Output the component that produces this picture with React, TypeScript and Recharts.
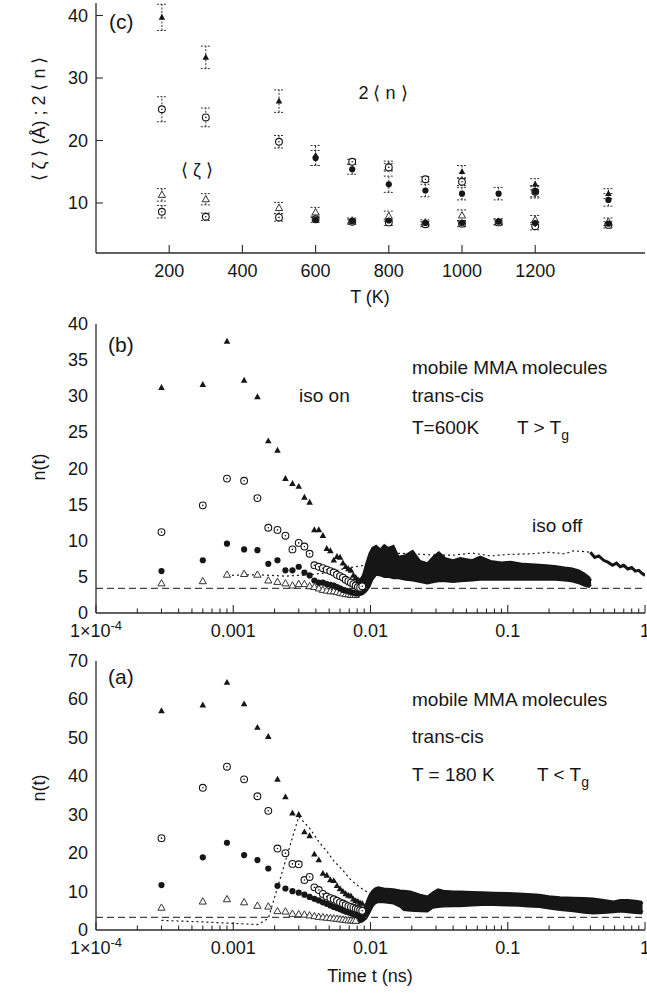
import React from 'react';
import { ComposedChart, Scatter, Line, Area, XAxis, YAxis, ReferenceLine, ErrorBar } from 'recharts';

// colours / fonts
const INK = '#161616';
const AXIS = '#2b2b2b';
const FONT = '"Liberation Sans", Arial, Helvetica, sans-serif';
const AXIS_LINE = { stroke: AXIS, strokeWidth: 1.3 };

// ---------------- panel (c): <zeta> and 2<n> vs T ----------------
const C_X_TICKS = [200, 400, 600, 800, 1000, 1200];
const C_Y_TICKS = [10, 20, 30, 40];

// upper group, 2<n>
const C_UP_TRI_T = [180, 300, 500, 600, 800, 1000, 1200, 1400];
const C_UP_TRI = [39.7, 33.3, 26.3, 17.6, 16.0, 15.0, 13.0, 11.5];
const C_UP_TRI_ERR = [2.1, 1.8, 1.8, 1.6, 0.7, 1.0, 0.9, 0.8];
const C_UP_RING_T = [180, 300, 500, 700, 800, 900, 1000, 1200];
const C_UP_RING = [25.0, 23.7, 19.8, 16.6, 15.7, 13.8, 13.4, 11.8];
const C_UP_RING_ERR = [2.0, 1.5, 1.0, 0.4, 0.6, 0.4, 0.6, 0.8];
const C_UP_DOT_T = [600, 700, 800, 900, 1000, 1100, 1200, 1400];
const C_UP_DOT = [17.2, 15.4, 13.0, 12.0, 11.5, 11.5, 11.8, 10.5];
const C_UP_DOT_ERR = [1.2, 0.8, 1.3, 1.0, 1.0, 1.0, 1.0, 1.0];

// lower group, <zeta>
const C_LOW_T = [180, 300, 500, 600, 700, 800, 900, 1000, 1100, 1200, 1400];
const C_LOW_TRI = [11.3, 10.6, 9.2, 8.5, 7.2, 7.9, 6.9, 8.0, 7.0, 7.3, 7.0];
const C_LOW_TRI_ERR = [1.0, 0.9, 0.9, 0.8, 0.4, 0.8, 0.4, 0.9, 0.5, 0.7, 0.6];
const C_LOW_RING = [8.6, 7.8, 7.7, 7.4, 7.0, 6.9, 6.6, 6.7, 6.9, 6.3, 6.5];
const C_LOW_RING_ERR = [1.0, 0.6, 0.6, 0.5, 0.4, 0.5, 0.4, 0.5, 0.4, 0.6, 0.5];
const C_LOW_DOT_T = [600, 700, 800, 900, 1000, 1100, 1200, 1400];
const C_LOW_DOT = [7.3, 7.1, 7.2, 6.8, 6.8, 7.0, 6.8, 6.7];

// ---------------- panels (a), (b): n(t) ----------------
const LOG_MAJOR = [0.0001, 0.001, 0.01, 0.1, 1];
const LOG_MINOR = [0.0001, 0.001, 0.01, 0.1].flatMap((d) => [2, 3, 4, 5, 6, 7, 8, 9].map((k) => d * k));

const T_EARLY = [
  0.0003, 0.0006, 0.0009, 0.0012, 0.0015, 0.0018, 0.0021, 0.0024, 0.0027, 0.003,
  0.0033, 0.0036, 0.0039, 0.0042, 0.0045, 0.0048, 0.0051, 0.0054, 0.0057, 0.006,
  0.0063, 0.0066, 0.0069, 0.0072, 0.0075, 0.0078, 0.0081, 0.0084, 0.0087,
];

// (b) T = 600 K
const B_Y_TICKS = [0, 5, 10, 15, 20, 25, 30, 35, 40];
const B_TRI = [31.2, 31.6, 37.6, 32.2, 29.9, 23.8, 22.5, 18.6, 17.9, 17.5, 16.0, 15.3, 11.5, 11.5, 10.7, 8.9, 8.6, 7.3, 7.8, 7.7, 6.9, 6.4, 6.1, 5.9, 5.2, 4.9, 4.6, 4.5, 4.8];
const B_RING = [11.2, 14.9, 18.6, 18.3, 15.9, 11.8, 11.5, 10.7, 8.8, 9.7, 9.2, 8.2, 6.6, 6.4, 6.2, 6.0, 5.8, 5.6, 5.3, 5.1, 4.9, 4.6, 4.4, 4.2, 4.0, 3.8, 3.6, 3.5, 3.7];
const B_DOT = [5.8, 7.3, 9.6, 8.8, 8.7, 6.8, 7.3, 5.9, 5.9, 6.4, 5.6, 5.2, 4.5, 4.2, 4.2, 4.0, 3.9, 3.8, 3.6, 3.4, 3.2, 3.1, 3.0, 2.9, 2.8, 2.7, 2.7, 2.9, 3.3];
const B_OTRI = [4.1, 4.4, 5.3, 5.4, 5.3, 4.5, 4.3, 4.1, 3.8, 4.0, 4.0, 3.7, 3.6, 3.4, 3.2, 3.1, 3.0, 3.0, 2.9, 2.8, 2.7, 2.6, 2.6, 2.5, 2.5, 2.5];
const B_BAND_T = [0.0082, 0.0088, 0.0093, 0.0098, 0.0103, 0.011, 0.0118, 0.0126, 0.0135, 0.0147, 0.016, 0.018, 0.0203, 0.023, 0.026, 0.029, 0.0315, 0.035, 0.04, 0.045, 0.055, 0.063, 0.075, 0.09, 0.105, 0.13, 0.16, 0.19, 0.22, 0.26, 0.29, 0.33, 0.36, 0.39, 0.405];
const B_BAND_LO = [2.4, 2.6, 3.0, 3.6, 4.6, 5.3, 5.2, 5.0, 5.0, 4.8, 4.8, 4.6, 4.5, 4.3, 4.1, 4.3, 4.4, 4.4, 4.3, 4.4, 4.5, 4.6, 4.6, 4.6, 4.6, 4.6, 4.6, 4.6, 4.6, 4.5, 4.4, 4.1, 3.8, 3.6, 3.9];
const B_BAND_HI = [4.0, 5.2, 6.8, 8.2, 9.0, 9.3, 8.8, 9.4, 9.0, 9.3, 7.8, 8.0, 8.6, 7.2, 6.9, 7.9, 8.4, 7.6, 7.3, 7.6, 7.3, 7.8, 7.2, 7.0, 7.1, 6.8, 6.7, 6.6, 6.5, 6.3, 6.2, 5.9, 5.5, 5.0, 4.5];
const B_DOTTED_T = [0.0009, 0.0015, 0.0024, 0.0036, 0.005, 0.0066, 0.009, 0.01, 0.014, 0.02, 0.03, 0.04, 0.055, 0.075, 0.1, 0.15, 0.2, 0.26, 0.3, 0.36, 0.4];
const B_DOTTED = [5.2, 5.3, 5.1, 5.3, 5.6, 6.2, 6.6, 7.2, 8.3, 8.2, 8.0, 8.0, 8.3, 7.9, 8.1, 8.2, 8.4, 8.2, 8.6, 8.5, 8.4];
const B_TRAIL_T = [0.4, 0.43, 0.46, 0.5, 0.54, 0.58, 0.62, 0.66, 0.7, 0.75, 0.8, 0.85, 0.9, 0.95, 1.0];
const B_TRAIL = [8.4, 7.7, 7.9, 7.3, 7.0, 6.6, 6.9, 6.4, 6.6, 6.1, 6.3, 5.8, 5.9, 5.5, 5.2];
const B_BASE = 3.4;

// (a) T = 180 K
const A_Y_TICKS = [0, 10, 20, 30, 40, 50, 60, 70];
const A_TRI = [57.0, 58.5, 64.4, 58.8, 52.7, 50.3, 39.2, 34.6, 30.4, 30.0, 25.5, 24.5, 19.7, 18.2, 14.7, 14.2, 13.0, 12.8, 11.5, 10.7, 10.0, 9.4, 9.0, 8.8, 8.0, 7.6, 7.4, 7.0, 6.9];
const A_RING = [23.9, 37.0, 42.5, 39.2, 34.8, 31.0, 21.2, 20.0, 17.2, 17.1, 13.0, 13.8, 11.1, 10.4, 9.4, 8.7, 8.3, 8.0, 7.6, 7.2, 6.9, 6.5, 6.2, 6.0, 5.8, 5.6, 5.4, 5.2, 5.0];
const A_DOT = [11.7, 18.9, 22.7, 19.5, 18.2, 16.0, 11.5, 10.8, 10.1, 9.7, 9.2, 8.6, 8.1, 7.7, 7.2, 6.8, 6.4, 6.0, 5.7, 5.4, 5.1, 4.8, 4.6, 4.4, 4.2, 4.0, 3.8, 3.7, 3.6];
const A_OTRI = [5.8, 7.4, 8.0, 7.2, 6.3, 6.1, 4.9, 4.8, 4.2, 4.1, 4.0, 3.8, 3.6, 3.4, 3.3, 3.2, 3.1, 3.0, 2.9, 2.8, 2.7, 2.6, 2.5, 2.5, 2.4, 2.4];
const A_BAND_T = [0.008, 0.0087, 0.0093, 0.0098, 0.0103, 0.0108, 0.0114, 0.0125, 0.0147, 0.0165, 0.0175, 0.0195, 0.023, 0.026, 0.0285, 0.031, 0.034, 0.04, 0.045, 0.055, 0.065, 0.079, 0.1, 0.12, 0.14, 0.17, 0.2, 0.24, 0.3, 0.36, 0.42, 0.5, 0.59, 0.66, 0.75, 0.85, 0.94, 0.96];
const A_BAND_LO = [1.8, 2.2, 3.0, 4.4, 6.0, 6.9, 7.3, 7.2, 6.9, 6.0, 5.2, 5.0, 4.9, 4.8, 5.8, 6.0, 6.1, 6.2, 6.2, 6.4, 6.5, 6.5, 6.4, 6.3, 6.1, 6.0, 5.6, 5.2, 4.9, 4.5, 4.3, 4.4, 4.6, 4.8, 4.6, 4.4, 4.3, 5.0];
const A_BAND_HI = [3.4, 4.8, 7.0, 9.0, 10.2, 10.8, 11.1, 10.8, 10.6, 10.3, 10.2, 10.0, 9.2, 8.7, 9.8, 10.6, 10.2, 10.0, 10.0, 9.9, 9.8, 9.7, 9.6, 9.5, 9.4, 9.2, 8.8, 8.5, 8.4, 8.3, 8.2, 7.8, 7.4, 7.8, 7.8, 7.6, 7.4, 6.8];
const A_DOTTED_T = [0.0003, 0.0006, 0.0009, 0.0012, 0.0015, 0.0018, 0.003, 0.0036, 0.0042, 0.0048, 0.0054, 0.0063, 0.0072, 0.0081, 0.009, 0.01];
const A_DOTTED = [2.5, 2.1, 1.8, 1.6, 1.4, 3.0, 29.5, 26.5, 23.0, 20.5, 18.0, 15.5, 13.0, 11.5, 10.3, 9.5];
const A_BASE = 3.3;

// ---------------- marker shapes ----------------
const FilledTri = (p: any) => (
  <path d={`M${p.cx},${p.cy - 3.6}L${p.cx + 3.3},${p.cy + 2.3}L${p.cx - 3.3},${p.cy + 2.3}Z`} fill={INK} />
);
const OpenTri = (p: any) => (
  <path d={`M${p.cx},${p.cy - 3.8}L${p.cx + 3.6},${p.cy + 2.5}L${p.cx - 3.6},${p.cy + 2.5}Z`} fill="#fff" stroke="#333" strokeWidth={1} />
);
const Ring = (p: any) => (
  <g>
    <circle cx={p.cx} cy={p.cy} r={3.4} fill="#fff" stroke={INK} strokeWidth={1.1} />
    <circle cx={p.cx} cy={p.cy} r={0.8} fill={INK} />
  </g>
);
const Dot = (p: any) => <circle cx={p.cx} cy={p.cy} r={3.1} fill={INK} />;

// ---------------- ticks ----------------
const isMajor = (v: number) => LOG_MAJOR.some((m) => Math.abs(m - v) <= m * 1e-6);

const logLabel = (v: number) =>
  v < 0.0005 ? (
    <>
      1×10<tspan dy={-7} fontSize={13}>-4</tspan>
    </>
  ) : (
    String(v)
  );

const LogBottomTick = (p: any) => {
  const major = isMajor(p.payload.value);
  return (
    <g>
      <line x1={p.x} x2={p.x} y1={p.y} y2={p.y - (major ? 8 : 4.5)} stroke={AXIS} strokeWidth={1.1} />
      {major && (
        <text x={p.x} y={p.y + 24} textAnchor="middle" fontSize={18} fill={INK} fontFamily={FONT}>
          {logLabel(p.payload.value)}
        </text>
      )}
    </g>
  );
};
const LogTopTick = (p: any) => {
  const major = isMajor(p.payload.value);
  return <line x1={p.x} x2={p.x} y1={p.y} y2={p.y + (major ? 8 : 4.5)} stroke={AXIS} strokeWidth={1.1} />;
};
const LinBottomTick = (p: any) => (
  <g>
    <line x1={p.x} x2={p.x} y1={p.y} y2={p.y - 8} stroke={AXIS} strokeWidth={1.1} />
    <text x={p.x} y={p.y + 24} textAnchor="middle" fontSize={18} fill={INK} fontFamily={FONT}>
      {p.payload.value}
    </text>
  </g>
);
const LinTopTick = (p: any) => <line x1={p.x} x2={p.x} y1={p.y} y2={p.y + 8} stroke={AXIS} strokeWidth={1.1} />;
const LeftTick = (withLine: boolean) => (p: any) => (
  <g>
    {withLine && <line x1={p.x} x2={p.x + 7} y1={p.y} y2={p.y} stroke={AXIS} strokeWidth={1.1} />}
    <text x={p.x - 8} y={p.y + 6} textAnchor="end" fontSize={18} fill={INK} fontFamily={FONT}>
      {p.payload.value}
    </text>
  </g>
);
const RightTick = (p: any) => <line x1={p.x} x2={p.x - 8} y1={p.y} y2={p.y} stroke={AXIS} strokeWidth={1.1} />;

const zip = (ts: number[], vs: number[], es?: number[]) =>
  vs.map((v, i) => ({ t: ts[i], v, e: es ? es[i] : 0 }));

// ---------------- panels ----------------
function PanelC() {
  const bars = (
    <ErrorBar dataKey="e" direction="y" width={5} stroke="#333" strokeWidth={1} strokeDasharray="2 1.5" isAnimationActive={false} />
  );
  return (
    <ComposedChart width={647} height={310} margin={{ top: 3, right: 2, bottom: 0, left: 0 }}>
      <XAxis xAxisId="b" dataKey="t" type="number" domain={[0, 1500]} ticks={C_X_TICKS} interval={0} allowDataOverflow
        height={57} tickSize={0} tickMargin={0} tickLine={false} axisLine={AXIS_LINE} tick={LinBottomTick} />
      <XAxis xAxisId="top" orientation="top" dataKey="t" type="number" domain={[0, 1500]} ticks={C_X_TICKS} interval={0}
        allowDataOverflow height={0} tickSize={0} tickMargin={0} tickLine={false} axisLine={AXIS_LINE} tick={LinTopTick} />
      <YAxis yAxisId="l" dataKey="v" type="number" domain={[2, 42]} ticks={C_Y_TICKS} interval={0} allowDataOverflow
        width={96} tickSize={0} tickMargin={0} tickLine={false} axisLine={AXIS_LINE} tick={LeftTick(true)} />
      <YAxis yAxisId="r" orientation="right" dataKey="v" type="number" domain={[2, 42]} ticks={C_Y_TICKS} interval={0}
        allowDataOverflow width={0} tickSize={0} tickMargin={0} tickLine={false} axisLine={AXIS_LINE} tick={RightTick} />
      <Scatter xAxisId="b" yAxisId="l" data={zip(C_UP_TRI_T, C_UP_TRI, C_UP_TRI_ERR)} shape={FilledTri} isAnimationActive={false}>{bars}</Scatter>
      <Scatter xAxisId="b" yAxisId="l" data={zip(C_UP_RING_T, C_UP_RING, C_UP_RING_ERR)} shape={Ring} isAnimationActive={false}>{bars}</Scatter>
      <Scatter xAxisId="b" yAxisId="l" data={zip(C_UP_DOT_T, C_UP_DOT, C_UP_DOT_ERR)} shape={Dot} isAnimationActive={false}>{bars}</Scatter>
      <Scatter xAxisId="b" yAxisId="l" data={zip(C_LOW_T, C_LOW_TRI, C_LOW_TRI_ERR)} shape={OpenTri} isAnimationActive={false}>{bars}</Scatter>
      <Scatter xAxisId="b" yAxisId="l" data={zip(C_LOW_T, C_LOW_RING, C_LOW_RING_ERR)} shape={Ring} isAnimationActive={false}>{bars}</Scatter>
      <Scatter xAxisId="top" yAxisId="r" data={zip(C_LOW_DOT_T, C_LOW_DOT)} shape={Dot} isAnimationActive={false} />
    </ComposedChart>
  );
}

interface TimePanelProps {
  height: number;
  top: number;
  yMax: number;
  yTicks: number[];
  base: number;
  tri: number[];
  ring: number[];
  dot: number[];
  otri: number[];
  bandT: number[];
  bandLo: number[];
  bandHi: number[];
  dottedT: number[];
  dotted: number[];
  trailT?: number[];
  trail?: number[];
}

function TimePanel(props: TimePanelProps) {
  const band = props.bandT.map((t, i) => ({ t, band: [props.bandLo[i], props.bandHi[i]] }));
  const xAxisHeight = props.height - props.top - (props.yMax === 40 ? 289 : 269);
  return (
    <ComposedChart width={647} height={props.height} data={band} margin={{ top: props.top, right: 2, bottom: 0, left: 0 }}>
      <XAxis xAxisId="b" dataKey="t" type="number" scale="log" domain={[0.0001, 1]} ticks={[...LOG_MAJOR, ...LOG_MINOR]}
        interval={0} allowDataOverflow height={xAxisHeight} tickSize={0} tickMargin={0} tickLine={false}
        axisLine={AXIS_LINE} tick={LogBottomTick} />
      <XAxis xAxisId="top" orientation="top" dataKey="t" type="number" scale="log" domain={[0.0001, 1]}
        ticks={[...LOG_MAJOR, ...LOG_MINOR]} interval={0} allowDataOverflow height={0} tickSize={0} tickMargin={0}
        tickLine={false} axisLine={AXIS_LINE} tick={LogTopTick} />
      <YAxis yAxisId="l" dataKey="v" type="number" domain={[0, props.yMax]} ticks={props.yTicks} interval={0}
        allowDataOverflow width={96} tickSize={0} tickMargin={0} tickLine={false} axisLine={AXIS_LINE} tick={LeftTick(false)} />
      <YAxis yAxisId="r" orientation="right" dataKey="v" type="number" domain={[0, props.yMax]} ticks={props.yTicks}
        interval={0} allowDataOverflow width={0} tickSize={0} tickMargin={0} tickLine={false} axisLine={AXIS_LINE} tick={RightTick} />
      <ReferenceLine xAxisId="b" yAxisId="l" y={props.base} stroke="#444" strokeWidth={1.2} strokeDasharray="7 4" />
      <Line xAxisId="b" yAxisId="l" data={zip(props.dottedT, props.dotted)} dataKey="v" type="linear" stroke={INK}
        strokeWidth={1.2} strokeDasharray="2 3" dot={false} isAnimationActive={false} />
      {props.trailT && props.trail && (
        <Line xAxisId="b" yAxisId="l" data={zip(props.trailT, props.trail)} dataKey="v" type="linear" stroke={INK}
          strokeWidth={3} dot={false} isAnimationActive={false} />
      )}
      <Area xAxisId="b" yAxisId="l" dataKey="band" type="linear" fill={INK} fillOpacity={1} stroke={INK} strokeWidth={2}
        isAnimationActive={false} />
      <Scatter xAxisId="b" yAxisId="l" data={zip(T_EARLY, props.otri)} shape={OpenTri} isAnimationActive={false} />
      <Scatter xAxisId="b" yAxisId="l" data={zip(T_EARLY, props.dot)} shape={Dot} isAnimationActive={false} />
      <Scatter xAxisId="b" yAxisId="l" data={zip(T_EARLY, props.ring)} shape={Ring} isAnimationActive={false} />
      <Scatter xAxisId="top" yAxisId="r" data={zip(T_EARLY, props.tri)} shape={FilledTri} isAnimationActive={false} />
    </ComposedChart>
  );
}

const txt = { fontFamily: FONT, fill: INK } as const;

export default function App() {
  return (
    <div style={{ position: 'absolute', left: 0, top: 0, width: 647, height: 994, background: '#fff' }}>
      <div style={{ position: 'absolute', left: 0, top: 0 }}>
        <PanelC />
      </div>
      <div style={{ position: 'absolute', left: 0, top: 310 }}>
        <TimePanel height={340} top={14} yMax={40} yTicks={B_Y_TICKS} base={B_BASE} tri={B_TRI} ring={B_RING} dot={B_DOT}
          otri={B_OTRI} bandT={B_BAND_T} bandLo={B_BAND_LO} bandHi={B_BAND_HI} dottedT={B_DOTTED_T} dotted={B_DOTTED}
          trailT={B_TRAIL_T} trail={B_TRAIL} />
      </div>
      <div style={{ position: 'absolute', left: 0, top: 650 }}>
        <TimePanel height={344} top={11} yMax={70} yTicks={A_Y_TICKS} base={A_BASE} tri={A_TRI} ring={A_RING} dot={A_DOT}
          otri={A_OTRI} bandT={A_BAND_T} bandLo={A_BAND_LO} bandHi={A_BAND_HI} dottedT={A_DOTTED_T} dotted={A_DOTTED} />
      </div>

      {/* annotations */}
      <svg width={647} height={994} style={{ position: 'absolute', left: 0, top: 0, pointerEvents: 'none' }}>
        {/* panel (c) */}
        <text x={109} y={29} fontSize={21} {...txt}>(c)</text>
        <text x={197} y={176} fontSize={18} textAnchor="middle" {...txt}>⟨ ζ ⟩</text>
        <text x={383} y={99} fontSize={18} textAnchor="middle" {...txt}>2 ⟨ n ⟩</text>
        <text x={370} y={303} fontSize={18} textAnchor="middle" {...txt}>T (K)</text>
        <text transform="translate(45,119) rotate(-90)" fontSize={18} textAnchor="middle" {...txt}>⟨ ζ ⟩ (Å) ;  2 ⟨ n ⟩</text>

        {/* panel (b) */}
        <text x={108} y={352} fontSize={21} {...txt}>(b)</text>
        <text x={412} y={374} fontSize={19} {...txt}>mobile MMA molecules</text>
        <text x={299} y={402} fontSize={19} {...txt}>iso on</text>
        <text x={412} y={402} fontSize={19} {...txt}>trans-cis</text>
        <text x={412} y={434} fontSize={19} {...txt}>T=600K</text>
        <text x={517} y={434} fontSize={19} {...txt}>T &gt; T<tspan dy={6} fontSize={14}>g</tspan></text>
        <text x={532} y={532} fontSize={19} {...txt}>iso off</text>
        <text transform="translate(45,467) rotate(-90)" fontSize={18} textAnchor="middle" {...txt}>n(t)</text>

        {/* panel (a) */}
        <text x={108} y={684} fontSize={21} {...txt}>(a)</text>
        <text x={412} y={706} fontSize={19} {...txt}>mobile MMA molecules</text>
        <text x={412} y={743} fontSize={19} {...txt}>trans-cis</text>
        <text x={412} y={781} fontSize={19} {...txt}>T = 180 K</text>
        <text x={537} y={781} fontSize={19} {...txt}>T &lt; T<tspan dy={6} fontSize={14}>g</tspan></text>
        <text transform="translate(45,788) rotate(-90)" fontSize={18} textAnchor="middle" {...txt}>n(t)</text>
        <text x={370} y={982} fontSize={18} textAnchor="middle" {...txt}>Time t (ns)</text>
      </svg>
    </div>
  );
}
